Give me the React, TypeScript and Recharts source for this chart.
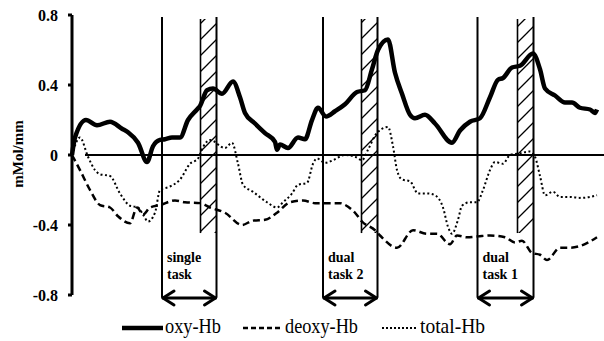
import { LineChart, Line, XAxis, YAxis, ReferenceLine, ReferenceArea, Legend } from "recharts";

// time (s) / concentration change (mMol/mm)
const oxyHb = [
  [0, 0], [0.6, 0.1], [2.8, 0.2], [5, 0.17], [7.6, 0.19], [10, 0.15], [11.2, 0.13], [13.2, 0.07],
  [15, -0.04], [16.2, 0.05], [17.6, 0.086], [18.6, 0.09], [20, 0.1], [21.6, 0.1], [23.2, 0.2],
  [25, 0.26], [25.6, 0.28], [27, 0.37], [28.2, 0.38], [30, 0.35], [32.2, 0.42], [33.6, 0.33],
  [34.6, 0.24], [36.6, 0.18], [38.6, 0.125], [40.6, 0.075], [41, 0.03], [41.6, 0.06], [43.2, 0.04],
  [45.2, 0.1], [46.6, 0.09], [48, 0.2], [49.2, 0.27], [50.8, 0.22], [52.6, 0.25], [54.6, 0.29],
  [57, 0.36], [58.6, 0.37], [60, 0.49], [61.2, 0.6], [63.2, 0.66], [64.6, 0.47], [66, 0.35],
  [67.6, 0.23], [68.6, 0.21], [70.6, 0.23], [72.6, 0.18], [76, 0.07], [77.6, 0.14], [79.6, 0.19],
  [81.6, 0.21], [83.6, 0.33], [85.2, 0.43], [86.2, 0.44], [88, 0.5], [89.6, 0.51], [92.2, 0.58],
  [93.6, 0.49], [94.6, 0.38], [96.6, 0.34], [98.6, 0.3], [100, 0.3], [101.6, 0.27], [103.6, 0.26],
  [104.6, 0.24], [105, 0.26],
];

const deoxyHb = [
  [0, 0], [1.6, -0.086], [3.6, -0.2], [5.6, -0.286], [7.6, -0.3], [9.2, -0.35], [11.6, -0.39],
  [13, -0.3], [14.2, -0.34], [15.6, -0.3], [17.6, -0.286], [20.6, -0.26], [22.6, -0.27],
  [25.6, -0.275], [27.6, -0.3], [30.6, -0.33], [34, -0.4], [36.2, -0.375], [38.6, -0.37],
  [41, -0.33], [43.6, -0.27], [46.2, -0.26], [48.6, -0.275], [53.6, -0.275], [54.6, -0.285],
  [56.6, -0.33], [58, -0.38], [60.6, -0.43], [61.6, -0.46], [65, -0.53], [68.2, -0.43], [71, -0.45],
  [73, -0.45], [75.6, -0.51], [77, -0.46], [79, -0.47], [81.2, -0.465], [83.6, -0.46],
  [86.6, -0.47], [88.6, -0.5], [90, -0.49], [92, -0.56], [93.6, -0.57], [95, -0.6], [97.6, -0.53],
  [99.6, -0.53], [101.6, -0.52], [105, -0.47],
];

const totalHb = [
  [0, 0], [1.6, 0.1], [3.2, -0.01], [4.6, -0.086], [5.6, -0.11], [7.6, -0.12], [9.6, -0.22],
  [11.6, -0.29], [13.2, -0.3], [14.2, -0.34], [15.2, -0.38], [16.6, -0.33], [17.6, -0.2],
  [19.6, -0.18], [21.6, -0.14], [23.6, -0.05], [25.2, -0.02], [26.2, 0.045], [27.6, 0.086],
  [30.6, 0.04], [32, 0.07], [33.2, -0.05], [34.2, -0.17], [36.2, -0.21], [39, -0.27], [41, -0.3],
  [42.2, -0.27], [44, -0.22], [45.2, -0.17], [47, -0.16], [48.2, -0.05], [49, -0.02], [50.6, -0.045],
  [52.2, -0.03], [54.6, 0], [56.6, -0.01], [58, -0.03], [59.2, 0.03], [60.6, 0.11], [62, 0.15],
  [63.2, 0.16], [64.2, 0.05], [65, -0.086], [66, -0.14], [67.6, -0.15], [69.2, -0.22], [71.2, -0.22],
  [72.6, -0.23], [74.2, -0.3], [75.2, -0.41], [76, -0.45], [77.2, -0.37], [78, -0.29], [79.6, -0.27],
  [81, -0.27], [82.2, -0.2], [83.6, -0.086], [84.6, -0.04], [86.2, -0.05], [87.6, 0], [89.6, 0.01],
  [91.6, 0.02], [92.6, -0.01], [93.6, -0.12], [94.6, -0.23], [96.2, -0.21], [97.6, -0.24],
  [99.6, -0.24], [101.6, -0.245], [103.6, -0.24], [105, -0.23],
];

const yTicks = [-0.8, -0.4, 0, 0.4, 0.8];

const taskStart = [18, 50.2, 81.1];
const hatchStart = [25.7, 57.9, 89.1];
const taskEnd = [28.9, 61.1, 92.3];
const taskLabels = [["single", "task"], ["dual", "task 2"], ["dual", "task 1"]];

const seriesNames = ["oxy-Hb", "deoxy-Hb", "total-Hb"];

const FONT = "'Liberation Serif', 'Times New Roman', serif";
const toPoints = (arr: number[][]) => arr.map(([t, v]) => ({ t, v }));

const YTick = ({ x, y, payload }: any) => (
  <text x={x} y={y} dy={5.5} textAnchor="end" fontFamily={FONT} fontWeight="bold" fontSize={16} fill="#000">
    {payload.value === 0 ? "0" : payload.value.toFixed(1)}
  </text>
);

const YLabel = () => (
  <text
    x={18}
    y={154}
    transform="rotate(-90 18 154)"
    textAnchor="middle"
    dominantBaseline="central"
    fontFamily={FONT}
    fontWeight="bold"
    fontSize={15}
    fill="#000"
  >
    mMol/mm
  </text>
);

const TaskArrow = ({ x1, x2, y1, lines }: any) => (
  <g>
    <g stroke="#000" strokeWidth={3} fill="none" strokeLinecap="round" strokeLinejoin="round">
      <line x1={x1 + 1} y1={y1} x2={x2 - 1} y2={y1} />
      <polyline points={`${x1 + 12},${y1 - 7} ${x1 + 1},${y1} ${x1 + 12},${y1 + 7}`} />
      <polyline points={`${x2 - 12},${y1 - 7} ${x2 - 1},${y1} ${x2 - 12},${y1 + 7}`} />
    </g>
    <text x={x1 + 5} y={y1 - 36} fontFamily={FONT} fontWeight="bold" fontSize={14} fill="#000">
      {lines[0]}
    </text>
    <text x={x1 + 5} y={y1 - 19} fontFamily={FONT} fontWeight="bold" fontSize={14} fill="#000">
      {lines[1]}
    </text>
  </g>
);

const LegendContent = () => (
  <svg width={604} height={30} style={{ display: "block" }}>
    <line x1={122} y1={16} x2={163} y2={16} stroke="#000" strokeWidth={4.5} />
    <text x={165} y={21} fontFamily={FONT} fontSize={21} textLength={56} lengthAdjust="spacingAndGlyphs">
      {seriesNames[0]}
    </text>
    <line x1={243} y1={16} x2={282} y2={16} stroke="#000" strokeWidth={2.5} strokeDasharray="5 3" />
    <text x={285} y={21} fontFamily={FONT} fontSize={21} textLength={73} lengthAdjust="spacingAndGlyphs">
      {seriesNames[1]}
    </text>
    <line x1={382} y1={16} x2={417} y2={16} stroke="#000" strokeWidth={2} strokeDasharray="2 2" />
    <text x={420} y={21} fontFamily={FONT} fontSize={21} textLength={65} lengthAdjust="spacingAndGlyphs">
      {seriesNames[2]}
    </text>
  </svg>
);

export default function App() {
  return (
    <div style={{ width: 604, height: 341, background: "#fff" }}>
      <style>{"body{margin:0}"}</style>
      <LineChart width={604} height={341} margin={{ top: 15, right: 0, bottom: 16, left: 0 }}>
        <defs>
          <pattern id="hatch" patternUnits="userSpaceOnUse" width={16} height={16}>
            <path d="M-4,4 L4,-4 M0,16 L16,0 M12,20 L20,12" stroke="#000" strokeWidth={1.3} />
          </pattern>
        </defs>
        <XAxis type="number" dataKey="t" domain={[0, 106.4]} hide />
        <YAxis
          type="number"
          domain={[-0.8, 0.8]}
          ticks={yTicks}
          width={72}
          axisLine={{ stroke: "#000", strokeWidth: 3 }}
          tickLine={{ stroke: "#000", strokeWidth: 3 }}
          tickSize={4}
          tickMargin={10}
          tick={<YTick />}
          label={<YLabel />}
          allowDataOverflow
        />
        <ReferenceLine
          segment={[{ x: 2.6, y: 0 }, { x: 106.4, y: 0 }]}
          stroke="#000"
          strokeWidth={2}
          ifOverflow="visible"
        />
        {hatchStart.map((h, i) => (
          <ReferenceArea
            key={`area-${i}`}
            x1={h}
            x2={taskEnd[i]}
            y1={-0.446}
            y2={0.777}
            fill="url(#hatch)"
            fillOpacity={1}
            stroke="none"
            ifOverflow="visible"
          />
        ))}
        {hatchStart.map((h, i) => (
          <ReferenceLine
            key={`hl-${i}`}
            segment={[{ x: h, y: -0.446 }, { x: h, y: 0.777 }]}
            stroke="#000"
            strokeWidth={1.6}
            ifOverflow="visible"
          />
        ))}
        {taskStart.map((s, i) => (
          <ReferenceLine
            key={`ts-${i}`}
            segment={[{ x: s, y: -0.815 }, { x: s, y: 0.789 }]}
            stroke="#000"
            strokeWidth={2}
            ifOverflow="visible"
          />
        ))}
        {taskEnd.map((e, i) => (
          <ReferenceLine
            key={`te-${i}`}
            segment={[{ x: e, y: -0.815 }, { x: e, y: 0.789 }]}
            stroke="#000"
            strokeWidth={2}
            ifOverflow="visible"
          />
        ))}
        {taskStart.map((s, i) => (
          <ReferenceLine
            key={`arrow-${i}`}
            segment={[{ x: s, y: -0.817 }, { x: taskEnd[i], y: -0.817 }]}
            ifOverflow="visible"
            shape={(p: any) => <TaskArrow {...p} lines={taskLabels[i]} />}
          />
        ))}
        <Line
          data={toPoints(totalHb)}
          dataKey="v"
          name={seriesNames[2]}
          type="monotone"
          stroke="#000"
          strokeWidth={2}
          strokeDasharray="2 2.5"
          dot={false}
          activeDot={false}
          isAnimationActive={false}
        />
        <Line
          data={toPoints(deoxyHb)}
          dataKey="v"
          name={seriesNames[1]}
          type="monotone"
          stroke="#000"
          strokeWidth={2.5}
          strokeDasharray="7 4"
          dot={false}
          activeDot={false}
          isAnimationActive={false}
        />
        <Line
          data={toPoints(oxyHb)}
          dataKey="v"
          name={seriesNames[0]}
          type="monotone"
          stroke="#000"
          strokeWidth={4.5}
          strokeLinejoin="round"
          dot={false}
          activeDot={false}
          isAnimationActive={false}
        />
        <Legend
          content={<LegendContent />}
          verticalAlign="bottom"
          height={30}
          wrapperStyle={{ left: 0, top: 312, bottom: "auto", width: 604, height: 30 }}
        />
      </LineChart>
    </div>
  );
}
